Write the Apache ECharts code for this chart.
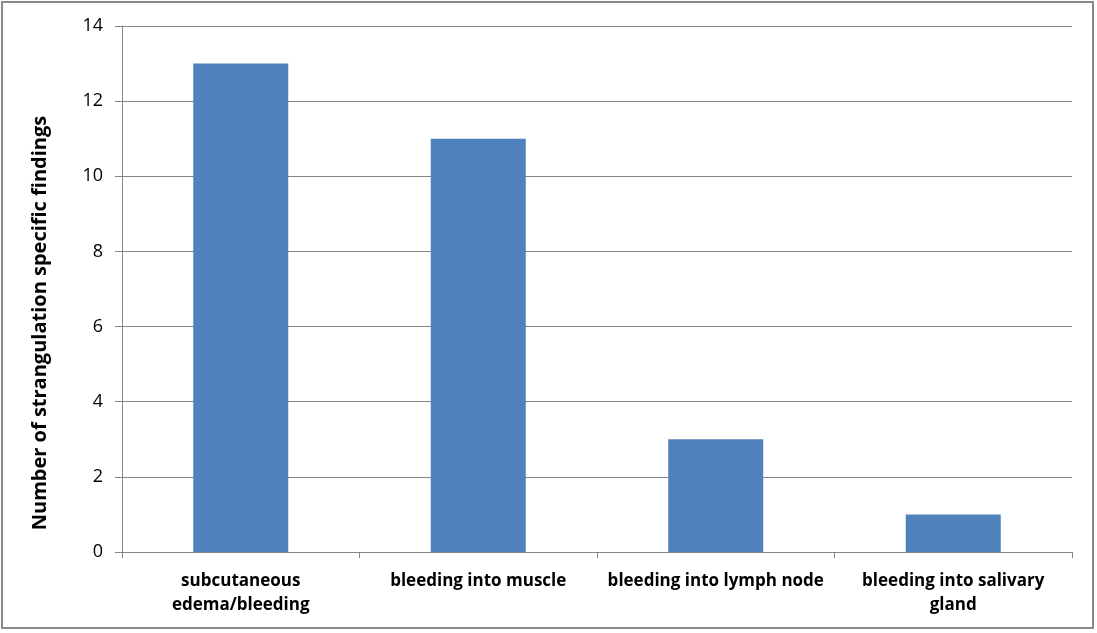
<!DOCTYPE html>
<html><head><meta charset="utf-8">
<script src="https://cdn.jsdelivr.net/npm/echarts@6/dist/echarts.min.js"></script>
<style>html,body{margin:0;padding:0;background:#fff}#c{width:1097px;height:633px;box-sizing:border-box;}
#frame{position:absolute;left:1px;top:1px;width:1093px;height:628px;border:2px solid #898989;box-sizing:border-box;pointer-events:none}</style>
</head><body>
<div id="c"></div><div id="frame"></div>
<script>
const categories = ["subcutaneous\nedema/bleeding", "bleeding into muscle", "bleeding into lymph node", "bleeding into salivary\ngland"];
const values = [13, 11, 3, 1];
const yTicks = [0, 2, 4, 6, 8, 10, 12, 14];
const yTitle = "Number of strangulation specific findings";

const FONT = '"Open Sans", Lato, sans-serif';
const chart = echarts.init(document.getElementById('c'), null, {renderer: 'canvas'});
chart.setOption({
  animation: false,
  grid: {left: 122, right: 25, top: 26, bottom: 81, containLabel: false},
  xAxis: {
    type: 'category', data: categories,
    axisLine: {lineStyle: {color: '#868686', width: 1}},
    axisTick: {show: true, length: 6, alignWithLabel: false, lineStyle: {color: '#868686'}},
    axisLabel: {color: '#000', fontFamily: FONT, fontWeight: 'bold', fontSize: 17, margin: 17, lineHeight: 24, interval: 0}
  },
  yAxis: {
    type: 'value', min: yTicks[0], max: yTicks[yTicks.length - 1], interval: 2,
    name: yTitle, nameLocation: 'middle', nameGap: 72, nameRotate: 90,
    nameTextStyle: {color: '#000', fontFamily: FONT, fontWeight: 'bold', fontSize: 20, padding: [0, 68, 0, 0]},
    axisLine: {show: true, lineStyle: {color: '#868686'}},
    axisTick: {show: true, length: 7, inside: false, lineStyle: {color: '#868686'}},
    splitLine: {show: true, lineStyle: {color: '#868686', width: 1}},
    axisLabel: {color: '#000', fontFamily: FONT, fontSize: 18, margin: 19}
  },
  series: [{
    type: 'bar', data: values, barCategoryGap: '60%',
    itemStyle: {color: '#4F81BD'}
  }]
});
</script>
</body></html>
